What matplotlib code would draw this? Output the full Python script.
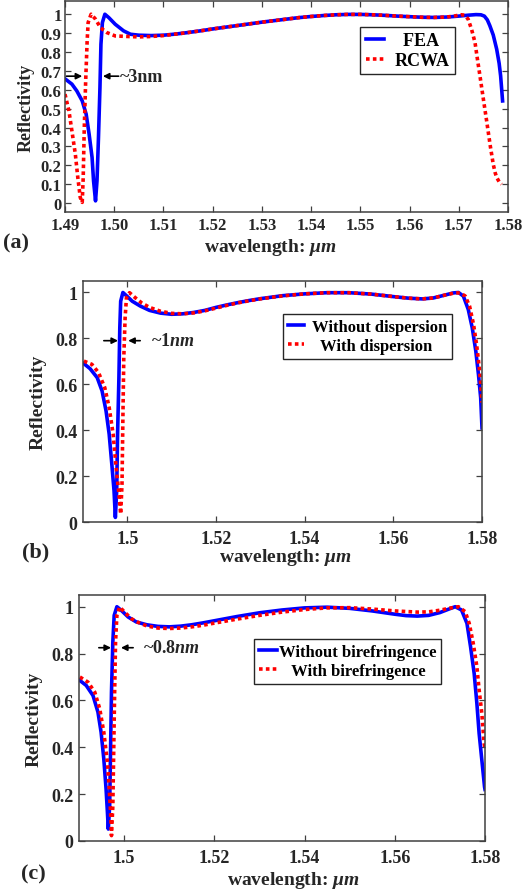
import matplotlib
matplotlib.use("Agg")
import matplotlib.pyplot as plt

plt.rcParams['font.family'] = ['Liberation Serif', 'DejaVu Serif']
plt.rcParams['font.weight'] = 'bold'
plt.rcParams['mathtext.fontset'] = 'custom'
plt.rcParams['mathtext.rm'] = 'Liberation Serif:bold'
plt.rcParams['mathtext.it'] = 'Liberation Serif:italic:bold'
plt.rcParams['mathtext.bf'] = 'Liberation Serif:bold'

TXT = '#262626'
SPINE = '#404040'
BLUE = '#0000ff'
RED = '#ff0000'

# ---- (a) FEA vs RCWA ----
wl_a_fea = [1.4901, 1.4914, 1.4924, 1.4935, 1.4943, 1.4949, 1.4955, 1.4958, 1.4962,
            1.4965, 1.4968, 1.4971, 1.4973, 1.4976, 1.4981, 1.4989, 1.5002, 1.5019,
            1.5033, 1.5050, 1.5075, 1.5100, 1.5125, 1.5150, 1.5175, 1.5200, 1.5225,
            1.5250, 1.5275, 1.5300, 1.5325, 1.5350, 1.5375, 1.5400, 1.5425, 1.5450,
            1.5475, 1.5500, 1.5525, 1.5550, 1.5575, 1.5600, 1.5625, 1.5650, 1.5675,
            1.5700, 1.5720, 1.5735, 1.5745, 1.5752, 1.5758, 1.5763, 1.5770, 1.5777,
            1.5782, 1.5785, 1.5789]
r_a_fea = [0.656, 0.630, 0.594, 0.541, 0.471, 0.365, 0.242, 0.118, 0.012,
           0.118, 0.347, 0.612, 0.841, 0.956, 1.000, 0.982, 0.947, 0.912,
           0.894, 0.889, 0.887, 0.889, 0.895, 0.903, 0.912, 0.922, 0.931,
           0.940, 0.949, 0.958, 0.966, 0.974, 0.982, 0.988, 0.993, 0.997,
           0.999, 0.999, 0.997, 0.994, 0.990, 0.987, 0.984, 0.983, 0.985,
           0.990, 0.995, 0.998, 0.997, 0.990, 0.970, 0.940, 0.890, 0.815,
           0.740, 0.674, 0.541]

wl_a_rcwa = [1.4900, 1.4908, 1.4914, 1.4921, 1.4926, 1.4931, 1.4935, 1.4937, 1.4939,
             1.4942, 1.4945, 1.4947, 1.4953, 1.4962, 1.4972, 1.4985, 1.5002, 1.5029,
             1.5050, 1.5075, 1.5100, 1.5125, 1.5150, 1.5175, 1.5200, 1.5225, 1.5250,
             1.5275, 1.5300, 1.5325, 1.5350, 1.5375, 1.5400, 1.5425, 1.5450, 1.5475,
             1.5500, 1.5525, 1.5550, 1.5575, 1.5600, 1.5625, 1.5650, 1.5675, 1.5690,
             1.5705, 1.5712, 1.5719, 1.5726, 1.5733, 1.5738, 1.5743, 1.5750, 1.5757,
             1.5764, 1.5770, 1.5774, 1.5777, 1.5782, 1.5787]
r_a_rcwa = [0.577, 0.488, 0.383, 0.259, 0.136, 0.030, 0.004, 0.136, 0.383,
            0.647, 0.859, 0.956, 1.000, 0.974, 0.929, 0.903, 0.885, 0.882,
            0.880, 0.882, 0.887, 0.895, 0.903, 0.912, 0.922, 0.931, 0.940,
            0.949, 0.958, 0.966, 0.974, 0.982, 0.988, 0.993, 0.997, 0.999,
            0.999, 0.997, 0.994, 0.990, 0.987, 0.984, 0.983, 0.985, 0.990,
            0.997, 0.995, 0.974, 0.920, 0.850, 0.760, 0.674, 0.550, 0.428,
            0.303, 0.206, 0.160, 0.136, 0.113, 0.100]

# ---- (b) dispersion ----
wl_b_nodisp = [1.4902, 1.4916, 1.4932, 1.4943, 1.4952, 1.4959, 1.4965, 1.4970, 1.4973,
               1.4976, 1.4978, 1.4981, 1.4983, 1.4985, 1.4990, 1.4999, 1.5011, 1.5029,
               1.5050, 1.5075, 1.5100, 1.5125, 1.5150, 1.5175, 1.5200, 1.5225, 1.5250,
               1.5275, 1.5300, 1.5350, 1.5400, 1.5450, 1.5500, 1.5550, 1.5600, 1.5635,
               1.5665, 1.5690, 1.5715, 1.5735, 1.5747, 1.5758, 1.5769, 1.5778, 1.5786,
               1.5792, 1.5797, 1.5800]
r_b_nodisp = [0.690, 0.668, 0.629, 0.571, 0.484, 0.383, 0.252, 0.136, 0.020,
              0.136, 0.383, 0.629, 0.846, 0.962, 1.000, 0.984, 0.962, 0.941,
              0.922, 0.910, 0.905, 0.907, 0.913, 0.922, 0.935, 0.946, 0.956,
              0.965, 0.973, 0.986, 0.994, 0.999, 0.999, 0.993, 0.982, 0.975,
              0.972, 0.976, 0.988, 0.998, 1.000, 0.984, 0.926, 0.846, 0.745,
              0.643, 0.542, 0.410]

wl_b_disp = [1.4902, 1.4920, 1.4935, 1.4949, 1.4959, 1.4968, 1.4974, 1.4981, 1.4985,
             1.4988, 1.4990, 1.4992, 1.4995, 1.4998, 1.5005, 1.5018, 1.5032, 1.5050,
             1.5075, 1.5100, 1.5125, 1.5150, 1.5175, 1.5200, 1.5225, 1.5250, 1.5275,
             1.5300, 1.5350, 1.5400, 1.5450, 1.5500, 1.5550, 1.5600, 1.5635, 1.5665,
             1.5690, 1.5715, 1.5738, 1.5750, 1.5762, 1.5772, 1.5781, 1.5788, 1.5794,
             1.5798, 1.5800]
r_b_disp = [0.701, 0.687, 0.651, 0.586, 0.499, 0.383, 0.252, 0.122, 0.035,
            0.165, 0.455, 0.716, 0.890, 0.977, 0.999, 0.977, 0.955, 0.935,
            0.918, 0.909, 0.907, 0.911, 0.920, 0.932, 0.944, 0.955, 0.964,
            0.972, 0.985, 0.994, 0.999, 0.999, 0.993, 0.982, 0.975, 0.972,
            0.976, 0.988, 0.998, 0.998, 0.985, 0.940, 0.860, 0.770, 0.670,
            0.580, 0.520]

# ---- (c) birefringence ----
wl_c_nobir = [1.4902, 1.4916, 1.4931, 1.4942, 1.4949, 1.4955, 1.4960, 1.4963, 1.4965,
              1.4968, 1.4970, 1.4972, 1.4975, 1.4978, 1.4984, 1.4994, 1.5009, 1.5027,
              1.5050, 1.5075, 1.5100, 1.5125, 1.5150, 1.5175, 1.5200, 1.5250, 1.5300,
              1.5350, 1.5400, 1.5450, 1.5500, 1.5550, 1.5600, 1.5625, 1.5650, 1.5675,
              1.5700, 1.5720, 1.5734, 1.5748, 1.5760, 1.5768, 1.5776, 1.5782, 1.5787,
              1.5793, 1.5799, 1.5800]
r_c_nobir = [0.685, 0.664, 0.621, 0.550, 0.464, 0.350, 0.222, 0.123, 0.051,
             0.151, 0.393, 0.635, 0.849, 0.963, 1.000, 0.984, 0.956, 0.935,
             0.923, 0.916, 0.914, 0.917, 0.923, 0.931, 0.940, 0.958, 0.974,
             0.986, 0.995, 0.998, 0.993, 0.982, 0.968, 0.962, 0.960, 0.963,
             0.975, 0.990, 1.000, 0.986, 0.929, 0.829, 0.715, 0.587, 0.459,
             0.345, 0.231, 0.220]

wl_c_bir = [1.4902, 1.4920, 1.4935, 1.4946, 1.4955, 1.4963, 1.4967, 1.4970, 1.4972,
            1.4975, 1.4977, 1.4979, 1.4981, 1.4984, 1.4990, 1.5001, 1.5016, 1.5029,
            1.5050, 1.5075, 1.5100, 1.5125, 1.5150, 1.5175, 1.5200, 1.5250, 1.5300,
            1.5350, 1.5400, 1.5450, 1.5500, 1.5550, 1.5600, 1.5650, 1.5675, 1.5700,
            1.5725, 1.5741, 1.5756, 1.5765, 1.5774, 1.5782, 1.5787, 1.5793, 1.5798,
            1.5800]
r_c_bir = [0.700, 0.678, 0.635, 0.564, 0.464, 0.336, 0.222, 0.123, 0.023,
           0.151, 0.393, 0.635, 0.849, 0.963, 0.999, 0.977, 0.949, 0.935,
           0.918, 0.909, 0.907, 0.909, 0.914, 0.921, 0.930, 0.947, 0.963,
           0.977, 0.988, 0.995, 0.996, 0.990, 0.982, 0.977, 0.978, 0.985,
           0.995, 1.000, 0.979, 0.929, 0.843, 0.744, 0.644, 0.544, 0.416,
           0.400]

# ticks
xt_a = [1.49, 1.50, 1.51, 1.52, 1.53, 1.54, 1.55, 1.56, 1.57, 1.58]
xtl_a = ['1.49', '1.50', '1.51', '1.52', '1.53', '1.54', '1.55', '1.56', '1.57', '1.58']
yt_a = [0, 0.1, 0.2, 0.3, 0.4, 0.5, 0.6, 0.7, 0.8, 0.9, 1.0]
ytl_a = ['0', '0.1', '0.2', '0.3', '0.4', '0.5', '0.6', '0.7', '0.8', '0.9', '1']
xt_bc = [1.50, 1.52, 1.54, 1.56, 1.58]
xtl_bc = ['1.5', '1.52', '1.54', '1.56', '1.58']
yt_bc = [0, 0.2, 0.4, 0.6, 0.8, 1.0]
ytl_bc = ['0', '0.2', '0.4', '0.6', '0.8', '1']

W, H = 522, 895
fig = plt.figure(figsize=(W / 100, H / 100), dpi=100)


def box(l, t, r, b):
    return [l / W, 1 - b / H, (r - l) / W, (b - t) / H]


ax_a = fig.add_axes(box(65, 2, 508, 213))
ax_b = fig.add_axes(box(83, 282, 482, 523))
ax_c = fig.add_axes(box(79, 596, 485, 842))


def style(ax, xt, xtl, yt, ytl, fs, xpad, ypad):
    ax.set_xticks(xt)
    ax.set_xticklabels(xtl)
    ax.set_yticks(yt)
    ax.set_yticklabels(ytl)
    ax.tick_params(direction='in', top=True, right=True, length=4, width=0.9,
                   colors=SPINE, labelcolor=TXT, labelsize=fs)
    ax.tick_params(axis='x', pad=xpad)
    ax.tick_params(axis='y', pad=ypad)
    for lab in ax.get_xticklabels() + ax.get_yticklabels():
        lab.set_fontweight('bold')
    for s in ax.spines.values():
        s.set_color(SPINE)
        s.set_linewidth(1.1)


def arrow(ax, x0, x1, y):
    ax.annotate('', xy=(x1, y), xytext=(x0, y),
                arrowprops=dict(arrowstyle='-|>', color='k', lw=1.2, mutation_scale=9,
                                shrinkA=0, shrinkB=0))


def legend(ax, anchor, fs, hl, htp):
    leg = ax.legend(loc='upper right', bbox_to_anchor=anchor, borderaxespad=0,
                    fontsize=fs, frameon=True, fancybox=False, edgecolor=TXT,
                    handlelength=hl, handletextpad=htp, borderpad=0.3,
                    labelspacing=0.15, framealpha=1)
    leg.get_frame().set_linewidth(1.0)


lw_s = 2.6
lw_d = 2.6
dots = (1, 0.9)

# panel (a)
ax_a.plot(wl_a_fea, r_a_fea, color=BLUE, lw=lw_s, label='  FEA')
ax_a.plot(wl_a_rcwa, r_a_rcwa, color=RED, lw=lw_d, linestyle=(0, dots), label='RCWA')
ax_a.set_xlim(1.49, 1.58)
ax_a.set_ylim(-0.047, 1.07)
style(ax_a, xt_a, xtl_a, yt_a, ytl_a, 12, 3.5, 2.5)
ax_a.set_ylabel('Reflectivity', fontsize=13, fontweight='bold', color=TXT, labelpad=4)
legend(ax_a, (0.880, 0.877), 13, 1.0, 0.6)
arrow(ax_a, 1.4903, 1.4935, 0.672)
arrow(ax_a, 1.5009, 1.4977, 0.672)
ax_a.text(1.5011, 0.672, '~3nm', fontsize=13, fontweight='bold', color=TXT,
          ha='left', va='center')

# panel (b)
ax_b.plot(wl_b_nodisp, r_b_nodisp, color=BLUE, lw=lw_s, label='Without dispersion')
ax_b.plot(wl_b_disp, r_b_disp, color=RED, lw=lw_d, linestyle=(0, dots),
          label='  With dispersion')
ax_b.set_xlim(1.49, 1.58)
ax_b.set_ylim(0, 1.05)
style(ax_b, xt_bc, xtl_bc, yt_bc, ytl_bc, 13, 6, 4)
ax_b.set_ylabel('Reflectivity', fontsize=14, fontweight='bold', color=TXT, labelpad=6)
legend(ax_b, (0.925, 0.863), 12, 1.0, 0.45)
arrow(ax_b, 1.4947, 1.4979, 0.79)
arrow(ax_b, 1.5029, 1.5002, 0.79)
ax_b.text(1.5054, 0.79, r'~1$nm$', fontsize=13, color=TXT, ha='left', va='center')

# panel (c)
ax_c.plot(wl_c_nobir, r_c_nobir, color=BLUE, lw=lw_s, label='Without birefringence')
ax_c.plot(wl_c_bir, r_c_bir, color=RED, lw=lw_d, linestyle=(0, dots),
          label='   With birefringence')
ax_c.set_xlim(1.49, 1.58)
ax_c.set_ylim(0, 1.05)
style(ax_c, xt_bc, xtl_bc, yt_bc, ytl_bc, 13, 6, 4)
ax_c.set_ylabel('Reflectivity', fontsize=14, fontweight='bold', color=TXT, labelpad=6)
legend(ax_c, (0.892, 0.821), 12, 1.1, 0.1)
arrow(ax_c, 1.4944, 1.4971, 0.825)
arrow(ax_c, 1.5020, 1.4993, 0.825)
ax_c.text(1.5041, 0.825, r'~0.8$nm$', fontsize=13, color=TXT, ha='left', va='center')

# x labels and panel tags in figure pixel coordinates
for cx, cy, tag, tx, ty in [(270, 247, '(a)', 16, 243),
                            (285, 558, '(b)', 36, 552),
                            (293, 881, '(c)', 33, 874)]:
    fig.text(cx / W, 1 - cy / H, r'wavelength: $\mu m$', fontsize=14, color=TXT,
             ha='center', va='center')
    fig.text(tx / W, 1 - ty / H, tag, fontsize=16, fontweight='bold', color=TXT,
             ha='center', va='center')

fig.savefig('out.png', dpi=100)
